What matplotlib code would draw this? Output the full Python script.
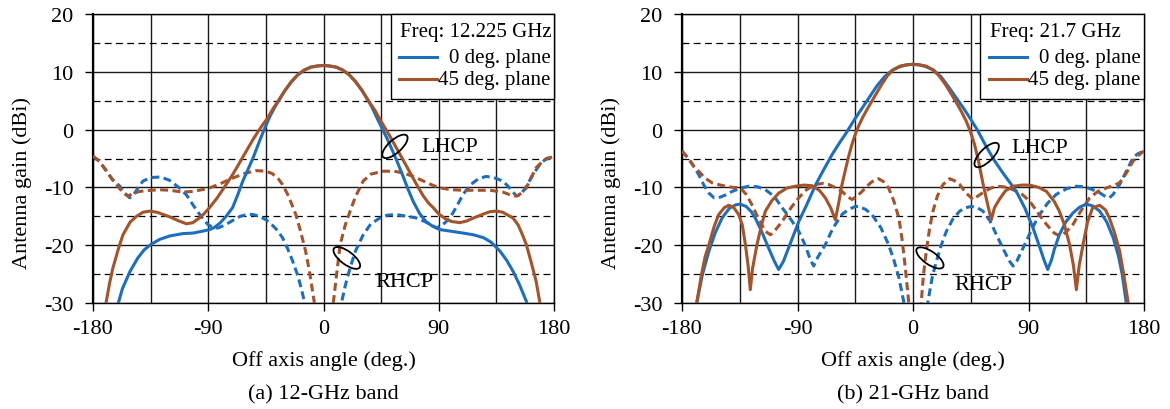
"""Antenna gain patterns of the 12-GHz and 21-GHz band feeds."""

import matplotlib

matplotlib.use("Agg")
import matplotlib.pyplot as plt
from matplotlib.lines import Line2D
from matplotlib.patches import Ellipse, Rectangle
from matplotlib.transforms import ScaledTranslation

BLUE = "#1d6fbe"
BROWN = "#a4532a"

# (a) 12-GHz band, Freq 12.225 GHz: (angle deg, gain dBi)
a_lhcp_0deg = [
    (-161.5, -31.0), (-157, -27.5), (-151, -24.5), (-145, -22.2), (-140, -20.8),
    (-135, -19.9), (-128, -19.0), (-120, -18.4), (-110, -18.0), (-102, -17.9),
    (-95, -17.6), (-89, -17.3), (-85, -16.9), (-81, -16.2), (-76, -15.0),
    (-71, -13.5), (-67, -11.3), (-63, -8.9), (-59, -6.9), (-55, -4.9),
    (-50, -2.0), (-46, 0.2), (-42, 2.2), (-38, 3.9), (-35, 5.0), (-30, 6.8),
    (-25, 8.3), (-20, 9.5), (-15, 10.3), (-10, 10.8), (-5, 11.0), (0, 11.1),
    (5, 11.0), (10, 10.8), (15, 10.3), (20, 9.5), (25, 8.3), (30, 6.8),
    (35, 5.0), (38, 3.8), (42, 1.9), (46, 0.1), (50, -1.7), (54, -3.7),
    (58, -5.8), (62, -8.0), (66, -10.3), (70, -12.4), (75, -14.5), (80, -15.9),
    (85, -16.7), (91, -17.3), (100, -17.6), (109, -17.9), (117, -18.2),
    (125, -18.7), (131, -19.5), (137.7, -21.0), (143, -22.6), (148, -24.5),
    (153, -26.8), (158.4, -29.7), (159.5, -31.0),
]
a_lhcp_45deg = [
    (-170.5, -31.0), (-169.6, -29.7), (-167, -26.5), (-164.4, -23.9), (-160, -20.5),
    (-156.6, -18.2), (-151, -16.0), (-146, -15.0), (-141, -14.3), (-135.8, -14.1),
    (-130, -14.3), (-125, -14.7), (-120, -15.1), (-113, -15.8), (-107, -16.3),
    (-102, -16.1), (-97, -15.3), (-93, -14.5), (-89, -13.5), (-83, -11.8),
    (-76, -9.5), (-71, -7.8), (-65.7, -5.8), (-60, -3.6), (-55, -1.7),
    (-52.7, -0.9), (-48, 0.7), (-43.6, 2.0), (-40, 3.4), (-35, 5.1), (-30, 6.8),
    (-25, 8.3), (-20, 9.5), (-15, 10.3), (-10, 10.8), (-5, 11.0), (0, 11.1),
    (5, 11.0), (10, 10.8), (15, 10.3), (20, 9.5), (25, 8.3), (30, 6.8),
    (35, 5.0), (40, 3.4), (44, 1.8), (48, 0.3), (52, -1.2), (56, -2.8),
    (60, -4.4), (64, -6.0), (68, -7.6), (72.7, -9.5), (78, -11.5), (82, -12.7),
    (85.7, -13.5), (90, -14.6), (95, -15.4), (100, -15.9), (106.5, -16.1),
    (112, -15.8), (117, -15.3), (125, -14.6), (130, -14.2), (135, -14.1),
    (140, -14.3), (144, -14.8), (148, -15.3), (152, -16.5), (155, -18.0),
    (158.4, -19.9), (162, -22.8), (166, -26.2), (168.8, -29.7), (169.5, -31.0),
]
a_rhcp_0deg = [
    (-180, -4.6), (-175, -5.5), (-170, -7.0), (-165, -8.6), (-159, -9.8),
    (-155, -11.0), (-151.4, -11.8), (-148, -11.2), (-144, -9.8), (-141, -8.9),
    (-135, -8.3), (-127, -8.2), (-120, -8.8), (-112.5, -10.1), (-107, -11.3),
    (-102, -13.0), (-96, -14.9), (-90.4, -16.4), (-86, -17.0), (-82, -17.0),
    (-76, -16.4), (-70, -15.6), (-65, -15.0), (-60, -14.7), (-55, -14.7),
    (-50, -15.0), (-45, -15.6), (-41, -16.3), (-37, -17.2), (-32, -18.7),
    (-28, -20.6), (-24, -22.8), (-20, -25.3), (-17, -27.8), (-15, -29.7),
    (-14.3, -31.0), (13.6, -31.0), (14.3, -29.7), (17, -27.0), (20.8, -23.9),
    (25, -21.0), (31, -18.2), (37, -16.3), (44, -15.3), (50, -14.8), (57, -14.7),
    (65, -15.0), (72.7, -15.3), (80, -16.0), (88.3, -17.0), (93, -16.5),
    (98.7, -15.3), (104, -13.3), (109, -11.2), (115, -9.5), (121, -8.5),
    (127, -8.1), (133, -8.3), (140, -8.9), (145, -10.0), (150.6, -11.5),
    (154, -11.2), (158, -10.0), (163, -8.0), (169, -6.0), (174, -5.0), (180, -4.6),
]
a_rhcp_45deg = [
    (-180, -4.6), (-175, -5.5), (-170, -7.0), (-165, -8.6), (-160, -10.0),
    (-156, -11.0), (-152.7, -11.5), (-148, -11.0), (-143.6, -10.7), (-135, -10.5),
    (-128, -10.4), (-120, -10.5), (-110, -10.8), (-102, -10.7), (-95, -10.4),
    (-89, -10.1), (-80, -9.3), (-71, -8.4), (-62, -7.6), (-52.7, -7.1),
    (-45, -7.2), (-40, -7.6), (-35, -8.6), (-32, -9.5), (-28, -11.2),
    (-25, -12.8), (-21.6, -14.7), (-18, -17.5), (-14, -21.0), (-11, -24.5),
    (-8.5, -28.0), (-7.3, -29.7), (-7, -31.0), (7.3, -31.0), (7.8, -29.7),
    (10, -25.5), (13, -19.9), (17, -16.5), (20.8, -14.1), (25, -11.6),
    (31, -8.9), (37, -7.7), (46.8, -7.2), (55, -7.2), (62.3, -7.5), (70, -8.1),
    (78, -8.9), (85, -9.6), (91, -10.1), (100, -10.4), (109, -10.5),
    (120, -10.5), (130, -10.5), (140, -10.8), (148, -11.5), (152, -11.4),
    (155, -10.9), (158.4, -10.1), (162, -8.4), (166, -6.6), (172, -5.3), (180, -4.6),
]

# (b) 21-GHz band, Freq 21.7 GHz
b_lhcp_0deg = [
    (-169, -31.0), (-168.3, -29.7), (-164, -25.0), (-159, -21.0), (-154, -17.8),
    (-148.8, -15.3), (-143, -13.6), (-138, -13.0), (-134.5, -12.9), (-130, -13.3),
    (-126, -14.2), (-122.9, -15.3), (-118, -17.6), (-112.5, -20.5), (-108, -22.8),
    (-104.7, -24.2), (-101, -22.8), (-97, -20.5), (-93, -18.2), (-89, -15.9),
    (-83, -13.1), (-76, -9.6), (-70, -7.1), (-63, -4.3), (-57, -2.2),
    (-52.7, -0.8), (-46, 1.6), (-40, 3.6), (-34, 5.6), (-28, 7.6), (-22, 9.2),
    (-16, 10.3), (-10, 10.9), (-5, 11.2), (0, 11.3), (5, 11.2), (10, 10.9),
    (16, 10.3), (22, 9.1), (28, 7.3), (34, 5.4), (40, 3.5), (45.5, 1.6),
    (50, 0.0), (57, -2.9), (63, -5.2), (70, -7.5), (75, -9.0), (80.5, -10.7),
    (87, -13.5), (93.5, -17.0), (99, -20.5), (102, -22.5), (105, -24.2),
    (108, -22.5), (110, -20.8), (114, -18.2), (119, -16.0), (124.7, -14.4),
    (130, -13.4), (135, -12.9), (140, -13.2), (145.5, -14.1), (151, -16.0),
    (156, -18.7), (160, -21.8), (163, -25.0), (166, -29.7), (166.6, -31.0),
]
b_lhcp_45deg = [
    (-169, -31.0), (-168.3, -29.7), (-165, -25.3), (-162, -22.0), (-159, -19.9),
    (-155, -16.8), (-151.4, -14.7), (-147, -13.5), (-143.6, -13.1), (-140, -13.4),
    (-135.8, -14.7), (-133, -16.5), (-130.6, -19.9), (-128.5, -23.5),
    (-126.8, -27.7), (-125, -24.0), (-121.6, -19.9), (-118, -16.5), (-115, -14.1),
    (-110, -12.3), (-104.7, -11.0), (-98, -10.1), (-91.7, -9.8), (-85, -9.6),
    (-78.7, -9.7), (-73, -10.5), (-68.3, -11.8), (-64, -13.6), (-60.5, -15.6),
    (-58, -12.8), (-55.3, -9.5), (-52.5, -6.8), (-50, -4.5), (-47.5, -2.5),
    (-45, -0.8), (-42, 0.8), (-39, 2.2), (-35, 3.8), (-30, 5.7), (-25, 7.6),
    (-20, 9.3), (-15, 10.4), (-10, 11.0), (-5, 11.2), (0, 11.3), (5, 11.2),
    (10, 11.0), (15, 10.4), (20, 9.4), (25, 7.9), (30, 6.1), (35, 4.2),
    (38, 3.0), (41.6, 1.4), (45, -0.5), (48, -2.6), (51, -5.4), (54.5, -9.3),
    (58, -12.8), (61, -15.6), (63.5, -13.5), (67.5, -12.0), (72, -10.6),
    (78, -9.8), (85, -9.6), (91, -9.6), (98, -10.0), (104, -10.7), (110, -12.4),
    (114, -14.1), (118, -16.5), (122, -19.9), (125, -23.5), (127.3, -27.7),
    (129.5, -23.5), (132.5, -19.9), (136, -16.0), (140, -13.5), (145.5, -13.1),
    (150, -13.9), (153, -15.3), (157, -17.8), (161, -21.0), (164, -24.8),
    (167.5, -29.7), (168.2, -31.0),
]
b_rhcp_0deg = [
    (-180, -3.7), (-175, -5.0), (-171, -6.3), (-167, -7.8), (-163, -9.6),
    (-159, -11.0), (-155, -11.8), (-151.4, -11.8), (-146, -11.3), (-141, -10.7),
    (-134, -10.1), (-128, -9.8), (-121, -9.9), (-115, -10.4), (-108, -11.6),
    (-102, -13.5), (-95, -15.6), (-89, -17.6), (-84, -20.0), (-80, -22.5),
    (-77.4, -23.6), (-74, -22.0), (-68.3, -19.9), (-64, -17.8), (-60.5, -16.4),
    (-55, -14.6), (-50, -13.8), (-45, -13.3), (-42.3, -13.3), (-37, -13.8),
    (-32, -14.7), (-25, -17.0), (-19, -19.9), (-15, -22.5), (-11, -25.6),
    (-7.3, -29.7), (-6.8, -31.0), (11.3, -31.0), (11.7, -29.7), (15, -25.5),
    (18.2, -22.8), (22, -20.0), (26, -17.6), (31, -15.5), (36.4, -14.1),
    (41, -13.5), (45.5, -13.3), (50, -13.5), (54.5, -14.1), (60, -15.8),
    (65, -18.2), (70, -20.5), (75, -22.7), (78, -23.6), (81, -22.7), (84, -21.3),
    (88.3, -19.3), (93, -17.0), (98.7, -14.7), (105, -12.7), (111.7, -11.2),
    (120, -10.2), (127.3, -9.8), (134, -9.9), (140, -10.4), (146, -11.0),
    (150, -11.6), (153, -11.8), (156, -11.2), (161, -9.5), (166, -7.3),
    (171.4, -4.9), (175, -4.2), (180, -3.7),
]
b_rhcp_45deg = [
    (-180, -3.7), (-175, -5.0), (-171, -6.3), (-167, -7.2), (-162, -8.4),
    (-156.6, -9.2), (-150, -9.6), (-146, -9.8), (-140, -10.0), (-134.5, -10.1),
    (-130, -11.2), (-125.5, -13.0), (-120, -15.6), (-115, -17.6), (-111, -18.2),
    (-107, -17.3), (-102, -15.9), (-95, -13.5), (-89, -11.8), (-83, -10.4),
    (-76, -9.5), (-70, -9.3), (-65.7, -9.5), (-60, -10.1), (-55.3, -10.7),
    (-51, -11.6), (-47.5, -12.1), (-44, -11.6), (-39.7, -10.7), (-34, -9.4),
    (-30, -8.7), (-26.8, -8.5), (-23, -9.0), (-19, -10.1), (-15, -12.3),
    (-11, -15.3), (-8.5, -19.0), (-6, -23.9), (-4.3, -27.7), (-3.4, -29.7),
    (-3.2, -31.0), (6.2, -31.0), (6.5, -29.7), (8.2, -25.0), (10.4, -21.0),
    (13, -17.0), (15.6, -14.1), (19, -11.5), (23.4, -9.5), (28.6, -8.5),
    (32, -8.8), (36.4, -9.5), (41, -10.9), (46.8, -12.1), (50.5, -11.5),
    (54.5, -10.9), (60, -10.2), (65, -9.8), (71, -9.9), (78, -10.4), (85, -11.2),
    (91, -12.4), (97, -14.3), (104, -16.4), (110, -17.9), (114.3, -18.4),
    (119, -17.8), (124.7, -16.4), (131, -14.0), (137.7, -11.8), (144, -10.7),
    (150.6, -10.1), (156, -9.7), (161, -9.2), (166, -7.6), (171.4, -5.5),
    (176, -4.4), (180, -3.7),
]

x_ticks = [-180, -90, 0, 90, 180]
x_grid = [-135, -45, 45, 135]
y_ticks = [-30, -20, -10, 0, 10, 20]
y_grid = [-25, -15, -5, 5, 15]
legend_labels = ["0 deg. plane", "45 deg. plane"]


def _unzip(pairs):
    return [p[0] for p in pairs], [p[1] for p in pairs]


def _ellipse(fig, ax, x, y, width_px, height_px, angle):
    # size in screen pixels so the tilt is independent of the axis scales
    offset = ScaledTranslation(x, y, ax.transData)
    ell = Ellipse((0, 0), width_px / fig.dpi, height_px / fig.dpi, angle=angle,
                  transform=fig.dpi_scale_trans + offset,
                  fill=False, edgecolor="black", linewidth=1.3, zorder=7)
    ax.add_patch(ell)


def _format_axis(ax) -> None:
    ax.set_xlim(-180, 180)
    ax.set_ylim(-30, 20)
    ax.set_xticks(x_ticks)
    ax.set_xticks(x_grid, minor=True)
    ax.set_yticks(y_ticks)
    ax.set_yticks(y_grid, minor=True)
    ax.grid(True, which="major", color="#1a1a1a", linewidth=1.0)
    ax.grid(True, which="minor", axis="x", color="#1a1a1a", linewidth=1.0)
    ax.grid(True, which="minor", axis="y", color="black", linewidth=0.9,
            linestyle=(0, (5.5, 3.5)))
    ax.set_axisbelow(True)
    ax.tick_params(which="minor", length=0)
    ax.tick_params(which="major", direction="out", length=5.5, width=1.0,
                   labelsize=16, colors="black")
    ax.tick_params(axis="y", pad=8.5)
    ax.tick_params(axis="x", pad=6)
    for side in ("top", "right", "bottom"):
        ax.spines[side].set_linewidth(1.0)
    ax.spines["left"].set_linewidth(1.6)


def draw_panel(fig, ax, curves, freq_text, caption, notes) -> None:
    for pairs, color, style in curves:
        xs, ys = _unzip(pairs)
        ax.plot(xs, ys, color=color, linestyle=style, linewidth=2.2, zorder=3)
    _format_axis(ax)

    ax.set_xlabel("Off axis angle (deg.)", fontsize=16, va="center")
    ax.xaxis.set_label_coords(0.5, -0.197)
    ax.set_ylabel("Antenna gain (dBi)", fontsize=16, va="center")
    ax.yaxis.set_label_coords(-0.154, 0.417)
    ax.text(0.5, -0.315, caption, transform=ax.transAxes, ha="center",
            va="center", fontsize=16)

    # legend box in the upper right corner
    ax.add_patch(Rectangle((0.646, 0.706), 0.354, 0.294, transform=ax.transAxes,
                           facecolor="white", edgecolor="black", linewidth=1.0,
                           zorder=5, clip_on=False))
    ax.text(0.666, 0.938, freq_text, transform=ax.transAxes, ha="left",
            va="center", fontsize=15, zorder=6)
    for label, color, ypos in zip(legend_labels, (BLUE, BROWN), (0.851, 0.775)):
        ax.add_line(Line2D([0.664, 0.747], [ypos, ypos], transform=ax.transAxes,
                           color=color, linewidth=2.2, zorder=6))
        ax.text(0.993, ypos, label, transform=ax.transAxes, ha="right",
                va="center", fontsize=15, zorder=6)

    for text, (ex, ey, angle), (tx, ty) in notes:
        _ellipse(fig, ax, ex, ey, 32, 13, angle)
        ax.text(tx, ty, text, ha="left", va="center", fontsize=16, zorder=6)


def main() -> None:
    plt.rcParams["font.family"] = ["Liberation Serif", "DejaVu Serif"]
    plt.rcParams["axes.unicode_minus"] = False
    fig = plt.figure(figsize=(11.7, 4.1), dpi=100)
    ax_a = fig.add_axes([93 / 1170, 106 / 410, 461 / 1170, 289 / 410])
    ax_b = fig.add_axes([682 / 1170, 106 / 410, 462 / 1170, 289 / 410])

    dash = (0, (2.6, 1.45))
    draw_panel(
        fig, ax_a,
        [(a_rhcp_0deg, BLUE, dash), (a_rhcp_45deg, BROWN, dash),
         (a_lhcp_0deg, BLUE, "-"), (a_lhcp_45deg, BROWN, "-")],
        "Freq: 12.225 GHz", "(a) 12-GHz band",
        [("LHCP", (55.8, -2.9, 42), (76.6, -2.9)),
         ("RHCP", (18.2, -22.2, -37), (40.3, -26.2))],
    )
    draw_panel(
        fig, ax_b,
        [(b_rhcp_0deg, BLUE, dash), (b_rhcp_45deg, BROWN, dash),
         (b_lhcp_0deg, BLUE, "-"), (b_lhcp_45deg, BROWN, "-")],
        "Freq: 21.7 GHz", "(b) 21-GHz band",
        [("LHCP", (57.4, -4.4, 45), (76.6, -3.05)),
         ("RHCP", (13.2, -22.2, -35), (32.5, -26.8))],
    )

    fig.savefig("out.png", dpi=100)
    plt.close(fig)


if __name__ == "__main__":
    main()
